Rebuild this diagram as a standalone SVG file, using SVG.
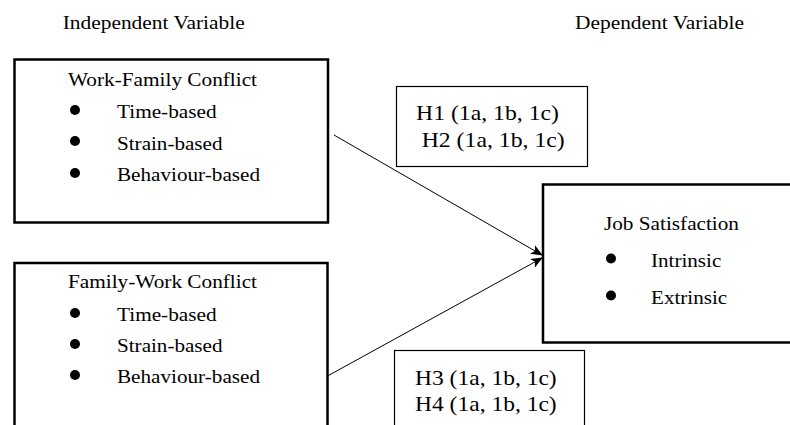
<svg xmlns="http://www.w3.org/2000/svg" width="790" height="425" viewBox="0 0 790 425">
<defs>
<style>
text{font-family:"Liberation Serif","Times New Roman",serif;fill:#000}
.hd{font-size:18px}
.bx{font-size:19px}
.hy{font-size:22px}
.node{fill:#fff;stroke:#000;stroke-width:2.5}
.hbox{fill:#fff;stroke:#000;stroke-width:1.2}
.blt{fill:#000}
.conn{stroke:#000;stroke-width:1;fill:none}
</style>
<marker id="ah" markerWidth="12" markerHeight="10" refX="11" refY="5" orient="auto" markerUnits="userSpaceOnUse">
<path d="M0,0 L12,5 L0,10 L3,5 Z" fill="#000"/>
</marker>
</defs>
<rect width="790" height="425" fill="#fff"/>
<text class="hd" x="62.7" y="28.5" textLength="182" lengthAdjust="spacingAndGlyphs">Independent Variable</text>
<text class="hd" x="575" y="29" textLength="169" lengthAdjust="spacingAndGlyphs">Dependent Variable</text>
<g id="wfc">
<rect class="node" x="14.5" y="59.5" width="313.5" height="163"/>
<text class="bx" x="68" y="86" textLength="189" lengthAdjust="spacingAndGlyphs">Work-Family Conflict</text>
<circle class="blt" cx="75" cy="110" r="5"/>
<text class="bx" x="117" y="117.5" textLength="99.6" lengthAdjust="spacingAndGlyphs">Time-based</text>
<circle class="blt" cx="75" cy="141" r="5"/>
<text class="bx" x="117" y="149.5" textLength="105.5" lengthAdjust="spacingAndGlyphs">Strain-based</text>
<circle class="blt" cx="75" cy="173" r="5"/>
<text class="bx" x="117" y="181" textLength="143" lengthAdjust="spacingAndGlyphs">Behaviour-based</text>
</g>
<g id="fwc">
<rect class="node" x="14.5" y="263" width="313" height="200"/>
<text class="bx" x="68" y="288" textLength="189" lengthAdjust="spacingAndGlyphs">Family-Work Conflict</text>
<circle class="blt" cx="75" cy="313" r="5"/>
<text class="bx" x="117" y="321" textLength="99.6" lengthAdjust="spacingAndGlyphs">Time-based</text>
<circle class="blt" cx="75" cy="344" r="5"/>
<text class="bx" x="117" y="352" textLength="105.5" lengthAdjust="spacingAndGlyphs">Strain-based</text>
<circle class="blt" cx="75" cy="375" r="5"/>
<text class="bx" x="117" y="383" textLength="143" lengthAdjust="spacingAndGlyphs">Behaviour-based</text>
</g>
<g id="h12">
<rect class="hbox" x="396.5" y="86.5" width="191" height="80"/>
<text class="hy" x="416" y="120" textLength="143" lengthAdjust="spacingAndGlyphs">H1 (1a, 1b, 1c)</text>
<text class="hy" x="421.7" y="146.7" textLength="143" lengthAdjust="spacingAndGlyphs">H2 (1a, 1b, 1c)</text>
</g>
<g id="h34">
<rect class="hbox" x="394.5" y="350.5" width="190" height="100"/>
<text class="hy" x="415" y="385" textLength="141.7" lengthAdjust="spacingAndGlyphs">H3 (1a, 1b, 1c)</text>
<text class="hy" x="415" y="411" textLength="141.7" lengthAdjust="spacingAndGlyphs">H4 (1a, 1b, 1c)</text>
</g>
<g id="js">
<rect class="node" x="543" y="184.5" width="300" height="158"/>
<text class="bx" x="604" y="230" textLength="135" lengthAdjust="spacingAndGlyphs">Job Satisfaction</text>
<circle class="blt" cx="611" cy="258.5" r="5"/>
<text class="bx" x="651" y="267" textLength="70.3" lengthAdjust="spacingAndGlyphs">Intrinsic</text>
<circle class="blt" cx="611" cy="295.5" r="5"/>
<text class="bx" x="651" y="303.5" textLength="76.2" lengthAdjust="spacingAndGlyphs">Extrinsic</text>
</g>
<g id="connectors">
<line class="conn" x1="334" y1="135" x2="542" y2="255" marker-end="url(#ah)"/>
<line class="conn" x1="327.5" y1="376" x2="542" y2="258" marker-end="url(#ah)"/>
</g>
</svg>
